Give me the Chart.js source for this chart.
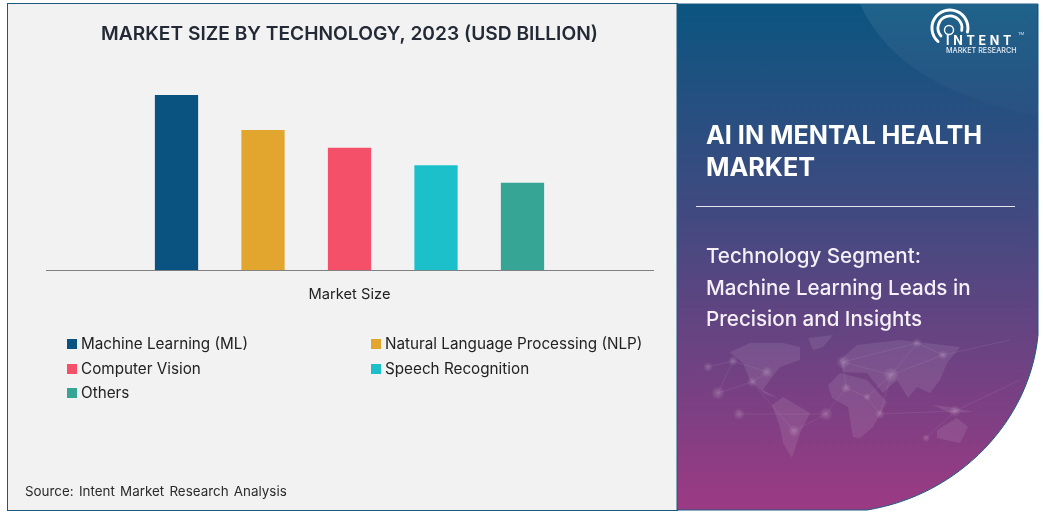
<!DOCTYPE html>
<html>
<head>
<meta charset="utf-8">
<title>AI in Mental Health Market</title>
<script src="https://cdn.jsdelivr.net/npm/chart.js@4"></script>
<style>
  html, body { margin: 0; padding: 0; background: #fff; }
  body { width: 1043px; height: 513px; position: relative; overflow: hidden; font-family: Inter, sans-serif; }
  .leftPanel { position: absolute; left: 7px; top: 3px; width: 670px; height: 506px; background: #f2f2f2; border: 1px solid #1b5a80; border-right: 0; }
  canvas { position: absolute; left: 0; top: 0; }
  .rightPanel { position: absolute; left: 0; top: 0; }
  .legendItem { position: absolute; font-size: 15.25px; color: #222; white-space: nowrap; line-height: 18px; }
  .legendItem i { position: absolute; left: -14px; top: 4px; width: 10px; height: 10px; }
  .source { position: absolute; left: 25px; top: 483px; font-size: 13.4px; color: #2a2a2a; word-spacing: 1.5px; white-space: nowrap; }
  .heading { position: absolute; left: 706px; top: 119px; font-size: 25.2px; line-height: 32px; font-weight: 700; color: #fff; }
  .rule { position: absolute; left: 696px; top: 206px; width: 319px; height: 1px; background: #e6e6ee; }
  .sub { position: absolute; left: 706px; top: 240px; font-size: 20.6px; line-height: 31.5px; font-weight: 500; color: #f4f0f6; white-space: nowrap; }
</style>
</head>
<body>
<div class="leftPanel"></div>
<canvas id="barChart" width="700" height="513"></canvas>
<div id="legendBox"></div>
<div class="source">Source: Intent Market Research Analysis</div>

<svg class="rightPanel" width="1043" height="513" xmlns="http://www.w3.org/2000/svg">
  <defs>
    <linearGradient id="panelFill" x1="0" y1="0" x2="0" y2="1">
      <stop offset="0" stop-color="#0b5580"/>
      <stop offset="0.4" stop-color="#3f4a80"/>
      <stop offset="1" stop-color="#9c3a84"/>
    </linearGradient>
    <linearGradient id="arcFill" x1="0" y1="0" x2="0" y2="1">
      <stop offset="0" stop-color="#fff" stop-opacity="0.08"/>
      <stop offset="1" stop-color="#fff" stop-opacity="0.01"/>
    </linearGradient>
    <radialGradient id="nodeGlow">
      <stop offset="0" stop-color="#fff" stop-opacity="0.2"/>
      <stop offset="1" stop-color="#fff" stop-opacity="0"/>
    </radialGradient>
    <filter id="soften"><feGaussianBlur stdDeviation="0.7"/></filter>
  </defs>
  <path d="M677 4 H1038 V335 C1030 420 960 495 867 510 H677 Z" fill="url(#panelFill)" stroke="#1b5a80" stroke-width="1"/>
  <path d="M860 4 C890 70 960 100 1037 116 V4 Z" fill="url(#arcFill)"/>

  <!-- world map backdrop, rough shapes -->
  <g fill="#fff" opacity="0.085" filter="url(#soften)">
    <path d="M730 352 L750 343 L783 343 L800 347 L800 360 L780 367 L772 377 L763 390 L778 398 L765 394 L750 380 L743 363 L733 355 Z"/>
    <path d="M808 338 L833 335 L823 347 L813 350 Z"/>
    <path d="M772 405 L783 397 L810 413 L800 433 L792 458 L783 443 L780 427 Z"/>
    <path d="M828 385 L840 373 L867 380 L887 402 L873 427 L860 438 L853 437 L848 407 L832 398 Z"/>
    <path d="M840 360 L857 345 L900 340 L960 347 L947 363 L940 380 L930 393 L917 387 L908 398 L897 380 L883 393 L867 373 L843 372 Z"/>
    <path d="M937 430 L957 418 L968 427 L960 443 L937 438 Z"/>
    <path d="M933 405 L950 407 L973 412 L950 413 Z"/>
  </g>
  <g stroke="#fff" stroke-width="0.5" opacity="0.14" fill="none">
    <path d="M708 367 L733 361 L767 372 L752 382 L718 393 L733 361"/>
    <path d="M739 414 L826 414 L794 431 L752 382"/>
    <path d="M826 414 L846 388 L843 362 L891 375 L917 343 L943 355 L891 375 L867 397 L880 414 L955 411 L926 438"/>
    <path d="M843 362 L917 343 M846 388 L867 397 M891 375 L880 414 M943 355 L1010 340 M955 411 L1020 380"/>
  </g>
  <g fill="url(#nodeGlow)">
    <circle cx="708" cy="367" r="5"/><circle cx="718" cy="393" r="7"/><circle cx="733" cy="361" r="5"/>
    <circle cx="767" cy="372" r="6"/><circle cx="752" cy="382" r="5"/><circle cx="739" cy="414" r="6"/>
    <circle cx="794" cy="431" r="6"/><circle cx="826" cy="414" r="7"/><circle cx="846" cy="388" r="5"/>
    <circle cx="843" cy="362" r="7"/><circle cx="891" cy="375" r="8"/><circle cx="917" cy="343" r="5"/>
    <circle cx="943" cy="355" r="5"/><circle cx="955" cy="411" r="6"/><circle cx="880" cy="414" r="5"/>
    <circle cx="867" cy="397" r="4"/><circle cx="926" cy="438" r="4"/>
  </g>

  <!-- logo -->
  <g fill="none" stroke="#fff" stroke-linecap="round">
    <path d="M938 41.5 A18 18 0 1 1 967.5 32" stroke-width="3"/>
    <path d="M941 36 A12 12 0 1 1 961.7 30.5" stroke-width="2.8"/>
    <circle cx="949" cy="30" r="4.5" stroke-width="1.4"/>
  </g>
  <text x="946" y="44.5" fill="#fff" font-family="Inter, sans-serif" font-size="12.5" font-weight="700" letter-spacing="3.7">INTENT</text>
  <text x="1018" y="35" fill="#dfe6ee" font-family="Inter, sans-serif" font-size="4">TM</text>
  <text x="946" y="53" fill="#e8ecf2" font-family="Inter, sans-serif" font-size="7.2" font-weight="500">MARKET RESEARCH</text>
</svg>

<div class="heading">AI IN MENTAL HEALTH<br>MARKET</div>
<div class="rule"></div>
<div class="sub">Technology Segment:<br>Machine Learning Leads in<br>Precision and Insights</div>

<script>
// Chart data
const categories = ['Market Size'];
const seriesNames = ['Machine Learning (ML)', 'Natural Language Processing (NLP)', 'Computer Vision', 'Speech Recognition', 'Others'];
const seriesValues = [5.0, 4.0, 3.5, 3.0, 2.5];
const seriesColors = ['#0a5280', '#e2a52d', '#f4506a', '#1bc0cb', '#36a596'];
const chartTitle = 'MARKET SIZE BY TECHNOLOGY, 2023 (USD BILLION)';

// Legend cell positions (two columns, three rows)
const legendLeft = [81, 385, 81, 385, 81];
const legendTop = [335, 335, 360, 360, 384];

const ctxBar = document.getElementById('barChart').getContext('2d');

const barChart = new Chart(ctxBar, {
  type: 'bar',
  data: {
    labels: categories,
    datasets: seriesNames.map((name, i) => ({
      label: name,
      data: [seriesValues[i]],
      backgroundColor: seriesColors[i],
      categoryPercentage: 0.7125,
      barPercentage: 0.5
    }))
  },
  options: {
    responsive: false,
    animation: false,
    layout: {
      padding: { left: 46, right: 47, top: 0, bottom: 195 }
    },
    plugins: {
      legend: { display: false },
      tooltip: { enabled: false },
      title: {
        display: true,
        text: chartTitle,
        color: '#232a36',
        padding: { top: 23, bottom: 49 },
        font: { family: 'Inter', size: 19.2, weight: '600' }
      }
    },
    scales: {
      x: {
        grid: { display: false, drawTicks: false },
        border: { display: true, color: '#808080', width: 1 },
        ticks: {
          color: '#222',
          padding: 15,
          font: { family: 'Inter', size: 14.7 }
        }
      },
      y: {
        display: false,
        min: 0,
        max: 5
      }
    }
  }
});

// Legend sits in two columns, so it is built from the same arrays
const legendBox = document.getElementById('legendBox');
seriesNames.forEach((name, i) => {
  const item = document.createElement('div');
  item.className = 'legendItem';
  item.style.left = legendLeft[i] + 'px';
  item.style.top = legendTop[i] + 'px';
  const swatch = document.createElement('i');
  swatch.style.background = seriesColors[i];
  item.appendChild(swatch);
  item.appendChild(document.createTextNode(name));
  legendBox.appendChild(item);
});
</script>
</body>
</html>
